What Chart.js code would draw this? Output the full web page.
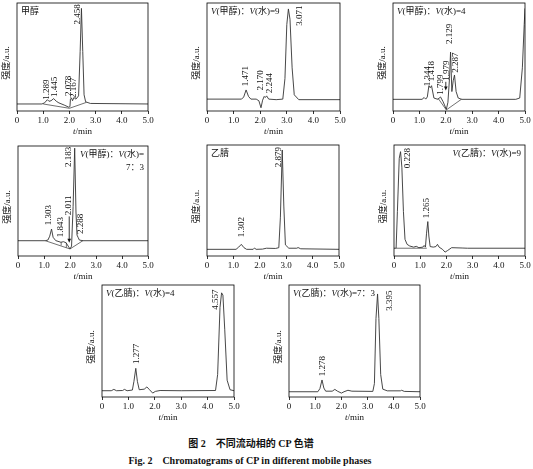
<!DOCTYPE html>
<html>
<head>
<meta charset="utf-8">
<style>
  html,
  body {
    margin: 0;
    height: 100%;
    overflow: hidden;
    background: #fff;
  }
  .panel {
    position: absolute;
  }
  .cap {
    position: absolute;
    left: 0;
    text-align: center;
    font-family: "Liberation Serif", "Noto Sans CJK SC", serif;
    font-weight: bold;
    font-size: 10px;
    color: #111;
    white-space: pre;
  }
</style>
</head>
<body>
<div class="cap" style="top:435px;width:502px">图 2　不同流动相的 CP 色谱</div>
<div class="cap" style="top:452px;width:500px">Fig. 2　Chromatograms of CP in different mobile phases</div>
<script src="https://cdn.jsdelivr.net/npm/chart.js@4/dist/chart.umd.min.js"></script>
<script>
  const SERIF = '"Liberation Serif", "DejaVu Serif", "Noto Sans CJK SC", serif'
  const tickLabels = ['0', '1.0', '2.0', '3.0', '4.0', '5.0']
  const yTitle = '强度/a.u.'

  // panel 1: 甲醇
  const p1Time = [0, 0.95, 1.05, 1.16, 1.22, 1.3, 1.4, 1.5, 1.6, 1.8, 1.98, 2.02, 2.04, 2.08, 2.12, 2.17, 2.25, 2.35, 2.41, 2.46, 2.51, 2.56, 2.62, 2.8, 5]
  const p1Signal = [6.5, 6.5, 7.5, 10.5, 9, 9.5, 11.5, 9, 7.5, 5.5, 3.5, 4, 11, 12, 9.5, 12.5, 11, 14, 55, 95, 55, 15, 8.5, 7, 6.5]
  const p1BaseTime = [1.0, 2.0, 2.65]
  const p1BaseSignal = [6.5, 2.5, 8]
  const p1Peaks = ['1.289', '1.445', '2.078', '2.167', '2.458']
  const p1PeakTime = [1.13, 1.45, 1.98, 2.17, 2.32]
  const p1PeakSignal = [10.5, 13, 14, 12, 80]

  // panel 2: V(甲醇):V(水)=9
  const p2Time = [0, 1.3, 1.38, 1.47, 1.56, 1.65, 1.85, 1.95, 2.03, 2.09, 2.15, 2.19, 2.24, 2.32, 2.6, 2.85, 2.93, 3.0, 3.06, 3.12, 3.2, 3.28, 3.45, 5]
  const p2Signal = [11, 11, 13, 19.5, 13.5, 11, 11, 9.5, 3, 10, 13.5, 12.5, 14, 11, 10.5, 11, 30, 80, 94.5, 85, 40, 15, 10.5, 10.5]
  const p2Peaks = ['1.471', '2.170', '2.244', '3.071']
  const p2PeakTime = [1.47, 2.03, 2.36, 3.48]
  const p2PeakSignal = [23, 19, 16.5, 79]

  // panel 3: V(甲醇):V(水)=4
  const p3Time = [0, 1.1, 1.18, 1.24, 1.3, 1.36, 1.41, 1.46, 1.55, 1.7, 1.8, 1.9, 2.02, 2.08, 2.14, 2.18, 2.23, 2.28, 2.33, 2.39, 2.47, 2.6, 4.65, 4.8, 4.9, 4.97, 5]
  const p3Signal = [10.8, 10.8, 12.5, 11, 13, 23.4, 21.5, 23.4, 12, 10.8, 13, 8.5, 1.5, 8, 30, 54.6, 18, 28, 33.3, 18, 12, 10.8, 10.8, 12, 40, 80, 95]
  const p3BaseTime = [1.7, 2.02, 2.6]
  const p3BaseSignal = [12, 1, 11]
  const p3Peaks = ['1.344', '1.418', '1.799', '1.979', '2.129', '2.287']
  const p3PeakTime = [1.31, 1.47, 1.81, 2.04, 2.14, 2.39]
  const p3PeakSignal = [23, 27.5, 15, 28, 62, 35.5]

  // panel 4: V(甲醇):V(水)=7:3
  const p4Time = [0, 1.05, 1.15, 1.22, 1.29, 1.35, 1.45, 1.65, 1.75, 1.85, 1.93, 2.0, 2.06, 2.12, 2.18, 2.23, 2.27, 2.31, 2.36, 2.5, 5]
  const p4Signal = [13.9, 13.9, 14.5, 18, 24.5, 17, 14, 12.5, 13, 12, 9, 6.4, 9, 45, 98, 40, 19, 17, 14.5, 13.9, 13.9]
  const p4BaseTime = [1.05, 2.0, 2.5, 2.5, 1.66, 1.66, 1.66, 1.86, 1.86]
  const p4BaseSignal = [13.9, 6.4, 14, null, 9.6, 12.6, null, 7.6, 12]
  const p4Peaks = ['1.303', '1.843', '2.011', '2.183', '2.288']
  const p4PeakTime = [1.19, 1.64, 1.93, 1.95, 2.41]
  const p4PeakSignal = [28, 17, 37, 81, 20]

  // panel 5: 乙腈
  const p5Time = [0, 1.1, 1.2, 1.3, 1.4, 1.5, 1.75, 1.8, 1.86, 2.1, 2.25, 2.6, 2.72, 2.78, 2.85, 2.91, 2.97, 3.1, 3.4, 3.45, 3.55, 5]
  const p5Signal = [6, 6, 8, 10.5, 7.5, 6, 6, 7.2, 6, 6.2, 7, 6.8, 7.5, 35, 95.5, 45, 10, 7, 7, 7.6, 6.5, 6]
  const p5Peaks = ['1.302', '2.879']
  const p5PeakTime = [1.3, 2.72]
  const p5PeakSignal = [17, 80]

  // panel 6: V(乙腈):V(水)=9
  const p6Time = [0, 0.08, 0.13, 0.2, 0.25, 0.3, 0.36, 0.42, 0.5, 0.6, 0.75, 0.85, 0.95, 1.1, 1.15, 1.2, 1.24, 1.29, 1.33, 1.38, 1.5, 1.6, 1.66, 1.72, 1.85, 1.95, 2.05, 2.2, 2.6, 2.8, 5]
  const p6Signal = [7, 7, 40, 88, 94, 80, 40, 15, 10.5, 9, 8, 8.7, 7.5, 8, 9.5, 8, 20, 31, 18, 8.5, 8, 8.5, 10.5, 8, 6, 3.5, 5, 7.5, 7.2, 7, 7]
  const p6BaseTime = [0.08, 1.25]
  const p6BaseSignal = [7, 7]
  const p6Peaks = ['0.228', '1.265']
  const p6PeakTime = [0.53, 1.26]
  const p6PeakSignal = [79, 34]

  // panel 7: V(乙腈):V(水)=4
  const p7Time = [0, 0.35, 0.45, 0.55, 0.78, 0.85, 0.95, 1.15, 1.21, 1.28, 1.34, 1.41, 1.6, 1.7, 1.8, 1.92, 2.02, 2.2, 3.0, 4.3, 4.38, 4.47, 4.53, 4.58, 4.65, 4.74, 4.85, 5]
  const p7Signal = [5.6, 5.6, 6.8, 5.6, 5.8, 6.8, 5.6, 6.2, 14, 25.6, 14, 6.5, 7, 9, 6.5, 3.5, 5, 5.8, 5.6, 5.8, 20, 80, 93, 91, 60, 15, 6.5, 5.6]
  const p7Peaks = ['1.277', '4.557']
  const p7PeakTime = [1.32, 4.3]
  const p7PeakSignal = [29.5, 78]

  // panel 8: V(乙腈):V(水)=7:3
  const p8Time = [0, 1.1, 1.18, 1.26, 1.33, 1.4, 1.65, 1.75, 1.85, 2.0, 2.1, 2.25, 2.4, 3.2, 3.26, 3.32, 3.38, 3.43, 3.5, 3.58, 3.75, 4.25, 4.3, 4.4, 5]
  const p8Signal = [4.7, 4.7, 7.5, 15.2, 8, 5.2, 5.2, 6.8, 5.2, 3.5, 4.7, 6, 5.2, 5, 12, 70, 92, 70, 20, 7, 5.5, 5.5, 6, 5, 4.7]
  const p8Peaks = ['1.278', '3.395']
  const p8PeakTime = [1.3, 3.83]
  const p8PeakSignal = [18.5, 77]

  // panel titles: [text, italic]
  const titleMeOH = [[['甲醇', false]]]
  const titleMeOH9 = [[['V', true], ['(甲醇)：', false], ['V', true], ['(水)=9', false]]]
  const titleMeOH4 = [[['V', true], ['(甲醇)：', false], ['V', true], ['(水)=4', false]]]
  const titleMeOH73 = [[['V', true], ['(甲醇)：', false], ['V', true], ['(水)=', false]], [['7：3', false]]]
  const titleMeCN = [[['乙腈', false]]]
  const titleMeCN9 = [[['V', true], ['(乙腈)：', false], ['V', true], ['(水)=9', false]]]
  const titleMeCN4 = [[['V', true], ['(乙腈)：', false], ['V', true], ['(水)=4', false]]]
  const titleMeCN73 = [[['V', true], ['(乙腈)：', false], ['V', true], ['(水)=7：3', false]]]

  const toXY = (ts, vs) => ts.map((t, i) => ({ x: t, y: vs[i] }))

  const panels = [
    { box: [17, 3, 148, 111], time: p1Time, signal: p1Signal, baseT: p1BaseTime, baseV: p1BaseSignal,
      peaks: p1Peaks, peakT: p1PeakTime, peakV: p1PeakSignal, title: titleMeOH, align: 'left' },
    { box: [207, 3, 340, 111], time: p2Time, signal: p2Signal,
      peaks: p2Peaks, peakT: p2PeakTime, peakV: p2PeakSignal, title: titleMeOH9, align: 'left' },
    { box: [393, 3, 525, 111], time: p3Time, signal: p3Signal, baseT: p3BaseTime, baseV: p3BaseSignal,
      peaks: p3Peaks, peakT: p3PeakTime, peakV: p3PeakSignal, title: titleMeOH4, align: 'left',
      arrows: [[2.0, 27, 19]] },
    { box: [18, 146, 148, 256], time: p4Time, signal: p4Signal, baseT: p4BaseTime, baseV: p4BaseSignal,
      peaks: p4Peaks, peakT: p4PeakTime, peakV: p4PeakSignal, title: titleMeOH73, align: 'right',
      arrows: [[1.97, 36, 12]] },
    { box: [207, 145, 339, 256], time: p5Time, signal: p5Signal,
      peaks: p5Peaks, peakT: p5PeakTime, peakV: p5PeakSignal, title: titleMeCN, align: 'left' },
    { box: [394, 145, 525, 256], time: p6Time, signal: p6Signal, baseT: p6BaseTime, baseV: p6BaseSignal,
      peaks: p6Peaks, peakT: p6PeakTime, peakV: p6PeakSignal, title: titleMeCN9, align: 'right' },
    { box: [102, 285, 234, 397], time: p7Time, signal: p7Signal,
      peaks: p7Peaks, peakT: p7PeakTime, peakV: p7PeakSignal, title: titleMeCN4, align: 'left' },
    { box: [289, 285, 420, 397], time: p8Time, signal: p8Signal,
      peaks: p8Peaks, peakT: p8PeakTime, peakV: p8PeakSignal, title: titleMeCN73, align: 'left' }
  ]

  const padL = 20, padT = 4, padR = 8, padB = 30

  function decor(p) {
    return {
      id: 'decor',
      afterDraw(chart) {
        const { ctx, chartArea: a, scales } = chart
        const x = scales.x, y = scales.y
        ctx.save()
        ctx.strokeStyle = '#000'
        ctx.lineWidth = 0.8
        ctx.strokeRect(a.left, a.top, a.right - a.left, a.bottom - a.top)

        ctx.fillStyle = '#111'
        ctx.font = '9px ' + SERIF
        // peak retention labels, rotated
        p.peaks.forEach((txt, i) => {
          ctx.save()
          ctx.translate(x.getPixelForValue(p.peakT[i]), y.getPixelForValue(p.peakV[i]))
          ctx.rotate(-Math.PI / 2)
          ctx.textAlign = 'left'
          ctx.textBaseline = 'middle'
          ctx.fillText(txt, 0, 0)
          ctx.restore()
        })
        // arrows
        ;(p.arrows || []).forEach(([t, v0, v1]) => {
          const ax = x.getPixelForValue(t)
          const y0 = y.getPixelForValue(v0), y1 = y.getPixelForValue(v1)
          ctx.beginPath()
          ctx.moveTo(ax, y0)
          ctx.lineTo(ax, y1 - 3)
          ctx.stroke()
          ctx.beginPath()
          ctx.moveTo(ax - 1.8, y1 - 4)
          ctx.lineTo(ax + 1.8, y1 - 4)
          ctx.lineTo(ax, y1)
          ctx.closePath()
          ctx.fill()
        })
        // panel title
        p.title.forEach((line, li) => {
          const fonts = line.map(s => (s[1] ? 'italic ' : '') + '9px ' + SERIF)
          const widths = line.map((s, k) => { ctx.font = fonts[k]; return ctx.measureText(s[0]).width })
          const total = widths.reduce((s, w) => s + w, 0)
          let cx = p.align === 'left' ? a.left + 4 : a.right - 4 - total
          const cy = a.top + 9 + li * 13
          ctx.textBaseline = 'middle'
          ctx.textAlign = 'left'
          line.forEach((s, k) => {
            ctx.font = fonts[k]
            ctx.fillText(s[0], cx, cy)
            cx += widths[k]
          })
        })
        // y title
        ctx.font = '9px ' + SERIF
        ctx.save()
        ctx.translate(a.left - 10, (a.top + a.bottom) / 2 + 6)
        ctx.rotate(-Math.PI / 2)
        ctx.textAlign = 'center'
        ctx.textBaseline = 'middle'
        ctx.fillText(yTitle, 0, 0)
        ctx.restore()
        // x title: italic t + /min
        ctx.font = 'italic 9px ' + SERIF
        const wt = ctx.measureText('t').width
        ctx.font = '9px ' + SERIF
        const wm = ctx.measureText('/min').width
        let tx = (a.left + a.right) / 2 - (wt + wm) / 2
        const ty = a.bottom + 21
        ctx.textAlign = 'left'
        ctx.textBaseline = 'middle'
        ctx.font = 'italic 9px ' + SERIF
        ctx.fillText('t', tx, ty)
        ctx.font = '9px ' + SERIF
        ctx.fillText('/min', tx + wt, ty)
        ctx.restore()
      }
    }
  }

  panels.forEach(p => {
    const [L, T, R, B] = p.box
    const div = document.createElement('div')
    div.className = 'panel'
    div.style.left = (L - padL) + 'px'
    div.style.top = (T - padT) + 'px'
    const canvas = document.createElement('canvas')
    canvas.width = R - L + padL + padR
    canvas.height = B - T + padT + padB
    div.appendChild(canvas)
    document.body.appendChild(div)

    const datasets = [{
      data: toXY(p.time, p.signal),
      borderColor: '#333',
      borderWidth: 0.9,
      pointRadius: 0,
      tension: 0,
      fill: false
    }]
    if (p.baseT) {
      datasets.push({
        data: toXY(p.baseT, p.baseV),
        borderColor: '#333',
        borderWidth: 0.7,
        pointRadius: 0,
        tension: 0,
        fill: false,
        spanGaps: false
      })
    }

    new Chart(canvas, {
      type: 'line',
      data: { datasets },
      options: {
        responsive: false,
        animation: false,
        events: [],
        layout: { padding: { left: padL, top: padT, right: padR, bottom: 0 } },
        plugins: { legend: { display: false }, tooltip: { enabled: false } },
        scales: {
          x: {
            type: 'linear',
            min: 0,
            max: 5,
            afterFit: s => { s.height = padB },
            border: { display: false },
            grid: { drawOnChartArea: false, drawTicks: true, tickLength: 3, color: '#000', lineWidth: 0.8 },
            ticks: {
              stepSize: 1,
              autoSkip: false,
              maxRotation: 0,
              padding: 1,
              color: '#111',
              font: { family: SERIF, size: 9 },
              callback: (v, i) => tickLabels[i]
            }
          },
          y: { display: false, min: 0, max: 100 }
        }
      },
      plugins: [decor(p)]
    })
  })
</script>
</body>
</html>
